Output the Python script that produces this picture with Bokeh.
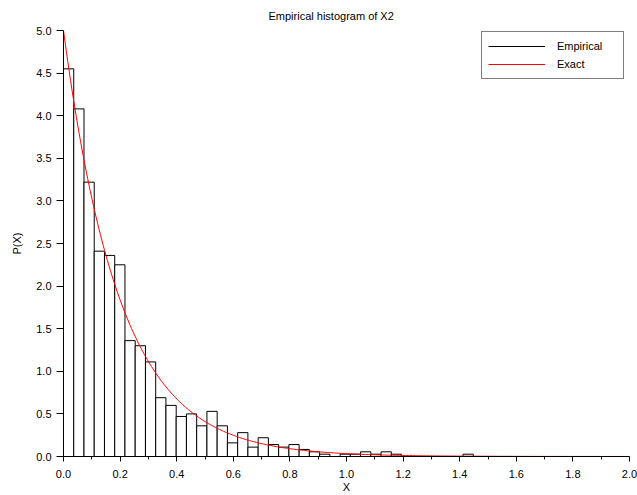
import numpy as np
from bokeh.plotting import figure
from bokeh.models import Range1d, FixedTicker, PrintfTickFormatter, Legend, LegendItem
from bokeh.embed import file_html
from bokeh.resources import INLINE

# Histogram of the sample X2 (density-normalised), 40 equal bins starting at 0
bin_start = 0.0
bin_width = 0.0362
densities = [4.55, 4.08, 3.22, 2.41, 2.36, 2.25, 1.36, 1.30, 1.11, 0.69,
             0.60, 0.47, 0.50, 0.36, 0.53, 0.36, 0.16, 0.28, 0.11, 0.22,
             0.14, 0.11, 0.14, 0.083, 0.055, 0.027, 0.0, 0.027, 0.027, 0.055,
             0.027, 0.055, 0.027, 0.0, 0.0, 0.0, 0.0, 0.0, 0.0, 0.027]

# Exact density: exponential law with rate lambda
rate = 5.0

x_ticks = [0.0, 0.2, 0.4, 0.6, 0.8, 1.0, 1.2, 1.4, 1.6, 1.8, 2.0]
x_minor = [0.1, 0.3, 0.5, 0.7, 0.9, 1.1, 1.3, 1.5, 1.7, 1.9]
y_ticks = [0.0, 0.5, 1.0, 1.5, 2.0, 2.5, 3.0, 3.5, 4.0, 4.5, 5.0]

FONT = "Liberation Sans"

p = figure(width=637, height=495, output_backend="svg", toolbar_location=None,
           x_range=Range1d(0, 2), y_range=Range1d(0, 5),
           min_border_left=63, min_border_right=8,
           min_border_top=30, min_border_bottom=38)

p.title.text = "Empirical histogram of X2"
p.title.align = "left"
p.title.offset = 205
p.title.vertical_align = "top"
p.title.standoff = 14
p.title.text_font = FONT
p.title.text_font_size = "11px"
p.title.text_font_style = "normal"
p.title.text_color = "black"

p.grid.visible = False
p.outline_line_color = None

lefts = [bin_start + i * bin_width for i in range(len(densities))]
rights = [l + bin_width for l in lefts]
p.quad(left=lefts, right=rights, bottom=0, top=densities,
       fill_color="white", line_color="black", line_width=1)

# line swatches used for the legend entries
emp_key = p.line([0, 0], [0, 0], line_color="black", line_width=1, visible=False)
exact_key = p.line([0, 0], [0, 0], line_color="#ff0000", line_width=1.2, visible=False)

xs = np.linspace(0, 2, 400)
p.line(xs, rate * np.exp(-rate * xs), line_color="#ff0000", line_width=1)

# Axes
xa = p.xaxis[0]
xa.ticker = FixedTicker(ticks=x_ticks, minor_ticks=x_minor)
xa.formatter = PrintfTickFormatter(format="%.1f")
xa.axis_label = "X"
xa.major_tick_out = 5
xa.major_tick_in = 0
xa.minor_tick_out = 3
xa.minor_tick_in = 0
xa.major_label_standoff = 8
xa.axis_label_standoff = 0

ya = p.yaxis[0]
ya.ticker = FixedTicker(ticks=y_ticks)
ya.formatter = PrintfTickFormatter(format="%.1f")
ya.axis_label = "P(X)"
ya.major_tick_out = 7
ya.major_tick_in = 0
ya.minor_tick_line_color = None
ya.major_label_standoff = 5
ya.axis_label_standoff = 10

for ax in (xa, ya):
    ax.axis_line_color = "black"
    ax.major_tick_line_color = "black"
    ax.major_label_text_font = FONT
    ax.major_label_text_font_size = "11px"
    ax.major_label_text_color = "black"
    ax.axis_label_text_font = FONT
    ax.axis_label_text_font_size = "11px"
    ax.axis_label_text_font_style = "normal"
    ax.axis_label_text_color = "black"
xa.minor_tick_line_color = "black"

legend = Legend(items=[LegendItem(label="Empirical", renderers=[emp_key]),
                       LegendItem(label="Exact", renderers=[exact_key])],
                location=(418, 377))
legend.border_line_color = "black"
legend.border_line_width = 1
legend.background_fill_alpha = 1
legend.padding = 6
legend.spacing = 2
legend.margin = 0
legend.glyph_width = 57
legend.glyph_height = 16
legend.label_height = 16
legend.label_width = 60
legend.label_standoff = 12
legend.label_text_font = FONT
legend.label_text_font_size = "11px"
legend.label_text_color = "black"
p.add_layout(legend)

open("out.html", "w").write(file_html(p, INLINE))
